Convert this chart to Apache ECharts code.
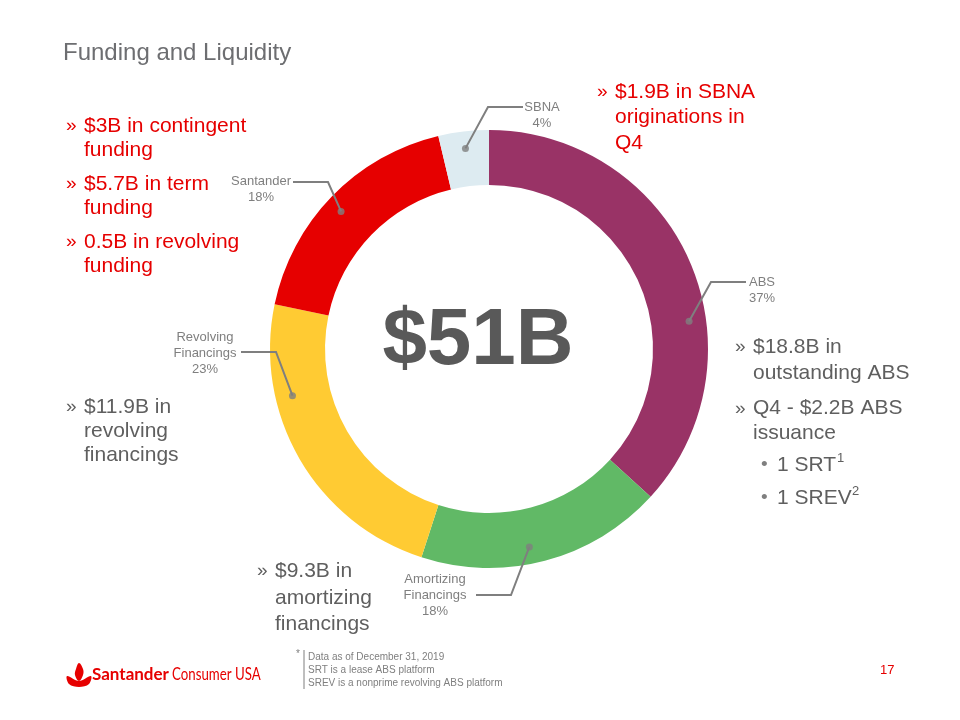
<!DOCTYPE html>
<html>
<head>
<meta charset="utf-8">
<title>Funding and Liquidity</title>
<script src="https://cdn.jsdelivr.net/npm/echarts@6/dist/echarts.min.js"></script>
<style>
  html, body { margin: 0; padding: 0; background: #fff; }
  #main { width: 960px; height: 720px; }
</style>
</head>
<body>
<div id="main"></div>
<script>
// funding mix in $B, as of Dec 31, 2019
const categories = ['ABS', 'Amortizing Financings', 'Revolving Financings', 'Santander', 'SBNA'];
const fundingValues = [18.8, 9.3, 11.9, 9.2, 1.9];
const totalText = '$51B';
const sliceColors = ['#993366', '#61B966', '#FFCB33', '#E60000', '#DDEBF1'];

// callouts: label centre, end of the leader line, and where along the slice the dot sits
const calloutLabel = [[762, 290], [435, 595], [205, 353], [261, 189], [542, 115]];
const calloutEnd = [[746, 282], [476, 595], [241, 352], [293, 182], [523, 107]];
const dotAlong = [0.62, 0.55, 0.70, 0.48, 0.5];

const FONT = '"Liberation Sans", Arial, sans-serif';
const RED = '#E60000';
const GREY = '#5F5F5F';
const CX = 489, CY = 349, R_IN = 164, R_OUT = 219, R_DOT = 202;

const total = fundingValues.reduce((a, b) => a + b, 0);
let dotAngles = [];
let acc = 0;
fundingValues.forEach((v, i) => {
  dotAngles.push(acc + v * dotAlong[i]);
  acc += v;
});

function dotPoint(i) {
  const a = dotAngles[i] / total * Math.PI * 2;
  return [CX + R_DOT * Math.sin(a), CY - R_DOT * Math.cos(a)];
}

function txt(x, y, text, color, size, extra, scaleX) {
  return {
    type: 'text',
    x: x,
    y: y,
    scaleX: scaleX || 1,
    silent: true,
    style: Object.assign({
      text: text,
      fill: color,
      fontSize: size,
      fontFamily: FONT,
      align: 'left',
      verticalAlign: 'top'
    }, extra || {})
  };
}

// a bullet paragraph: chevron + wrapped text
function bullet(x, top, lines, color, lineHeight) {
  return [
    txt(x, top, '\u00BB', color, 19, { lineHeight: lineHeight }),
    txt(x + 18, top, lines.join('\n'), color, 21, { lineHeight: lineHeight })
  ];
}

let graphics = [
  txt(63, 40, 'Funding and Liquidity', '#6D6E71', 24, { lineHeight: 26 }),
  txt(478, 342, totalText, '#595959', 80, { fontWeight: 'bold', align: 'center', verticalAlign: 'middle' })
];

graphics = graphics.concat(
  bullet(66, 114, ['$3B in contingent', 'funding'], RED, 24),
  bullet(66, 172, ['$5.7B in term', 'funding'], RED, 24),
  bullet(66, 230, ['0.5B in revolving', 'funding'], RED, 24),
  bullet(597, 79, ['$1.9B in SBNA', 'originations in', 'Q4'], RED, 25.5),
  bullet(735, 334, ['$18.8B in', 'outstanding ABS'], GREY, 26),
  bullet(735, 396, ['Q4 - $2.2B ABS', 'issuance'], GREY, 25),
  bullet(66, 395, ['$11.9B in', 'revolving', 'financings'], GREY, 24),
  bullet(257, 558, ['$9.3B in', 'amortizing', 'financings'], GREY, 26.5)
);

// sub bullets with footnote marks
graphics.push(
  txt(761, 453, '\u2022', '#7F7F7F', 19, { lineHeight: 24 }),
  txt(777, 453, '1 SRT', GREY, 21, { lineHeight: 24 }),
  txt(837, 451, '1', GREY, 13, { lineHeight: 14 }),
  txt(761, 486, '\u2022', '#7F7F7F', 19, { lineHeight: 24 }),
  txt(777, 486, '1 SREV', GREY, 21, { lineHeight: 24 }),
  txt(852, 484, '2', GREY, 13, { lineHeight: 14 })
);

// footer
graphics.push(
  txt(296, 649, '*', '#7F7F7F', 10),
  {
    type: 'line', silent: true,
    shape: { x1: 304, y1: 650, x2: 304, y2: 689 },
    style: { stroke: '#7F7F7F', lineWidth: 1 }
  },
  txt(308, 651, 'Data as of December 31, 2019\nSRT is a lease ABS platform\nSREV is a nonprime revolving ABS platform',
    '#7F7F7F', 10, { lineHeight: 13 }),
  txt(880, 664, '17', RED, 13),
  // logo flame
  {
    type: 'polygon', silent: true,
    shape: { points: [[79, 663], [83, 669], [83, 675], [79, 681], [75, 675], [76, 669]], smooth: 0.4 },
    style: { fill: RED }
  },
  {
    type: 'polygon', silent: true,
    shape: { points: [[67, 676], [79, 681], [91, 676], [89, 684], [79, 687], [69, 684]], smooth: 0.35 },
    style: { fill: RED }
  },
  txt(92, 666, 'Santander', RED, 17, { fontFamily: 'Lato, sans-serif', fontWeight: 'bold' }),
  txt(172, 666, 'Consumer USA', RED, 17, { fontFamily: 'Lato, sans-serif' }, 0.78)
);

const pieData = categories.map((c, i) => ({
  name: c,
  value: fundingValues[i],
  itemStyle: { color: sliceColors[i] }
}));

let myChart = echarts.init(document.getElementById('main'));
let option = {
  backgroundColor: '#ffffff',
  animation: false,
  polar: { center: [CX, CY], radius: R_OUT },
  angleAxis: {
    type: 'value', min: 0, max: total, startAngle: 90, clockwise: true,
    show: false, splitLine: { show: false }
  },
  radiusAxis: {
    type: 'value', min: 0, max: R_OUT,
    show: false, splitLine: { show: false }
  },
  graphic: graphics,
  series: [
    {
      // the ring itself
      type: 'pie',
      center: [CX, CY],
      radius: [R_IN, R_OUT],
      startAngle: 90,
      clockwise: true,
      silent: true,
      z: 2,
      label: { show: false },
      labelLine: { show: false },
      data: pieData
    },
    {
      // same slices, invisible, only to carry callouts above the ring
      type: 'pie',
      center: [CX, CY],
      radius: [R_IN, R_OUT],
      startAngle: 90,
      clockwise: true,
      silent: true,
      z: 4,
      avoidLabelOverlap: false,
      percentPrecision: 0,
      itemStyle: { color: 'rgba(0,0,0,0)' },
      data: categories.map((c, i) => ({ name: c, value: fundingValues[i] })),
      label: {
        show: true,
        position: 'outside',
        formatter: p => p.name.replace(' ', '\n') + '\n' + Math.round(p.percent) + '%',
        color: '#7F7F7F',
        fontSize: 13,
        lineHeight: 16,
        fontFamily: FONT
      },
      labelLine: {
        show: true,
        length: 10,
        length2: 20,
        smooth: false,
        lineStyle: { color: '#7F7F7F', width: 2 }
      },
      labelLayout: function (p) {
        const i = p.dataIndex;
        const lab = calloutLabel[i];
        const end = calloutEnd[i];
        const elbowX = lab[0] < end[0] ? end[0] + 35 : end[0] - 35;
        return {
          x: lab[0],
          y: lab[1],
          align: 'center',
          verticalAlign: 'middle',
          labelLinePoints: [dotPoint(i), [elbowX, end[1]], end]
        };
      }
    },
    {
      type: 'scatter',
      coordinateSystem: 'polar',
      silent: true,
      symbolSize: 7,
      z: 6,
      itemStyle: { color: '#7F7F7F' },
      data: dotAngles.map(a => [R_DOT, a])
    }
  ]
};

myChart.setOption(option, true);
window.addEventListener('resize', () => {
  myChart.resize();
});
</script>
</body>
</html>
